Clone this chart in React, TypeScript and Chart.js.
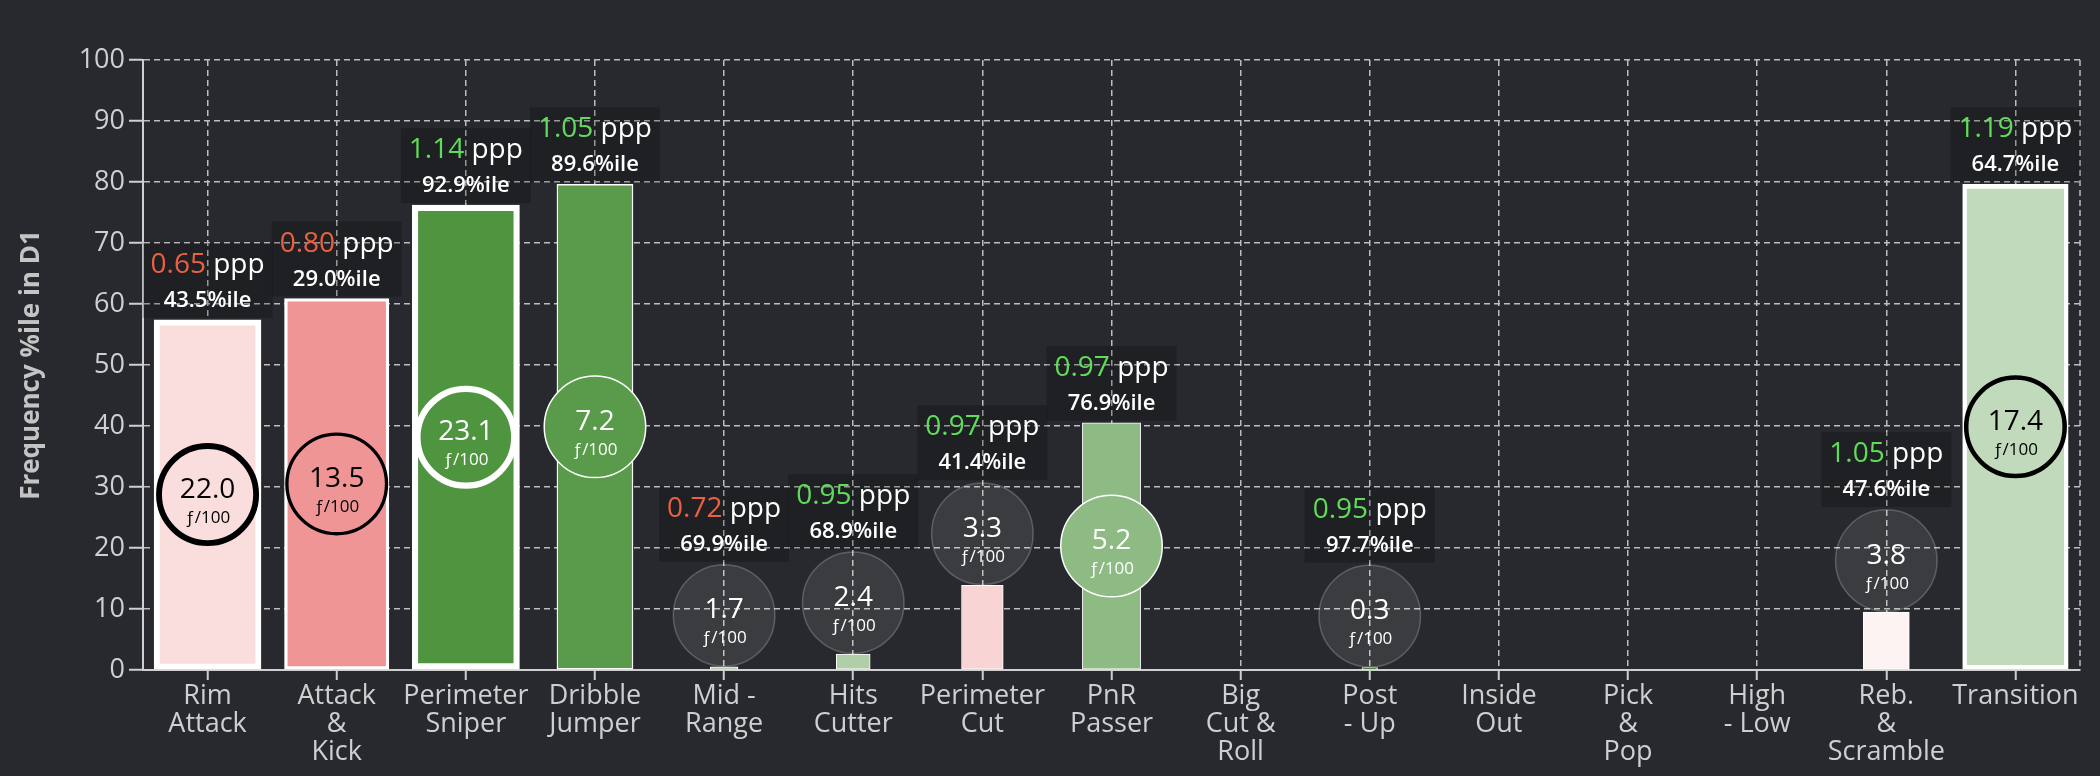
import React, { useEffect, useRef } from "react";
import { Chart, registerables, Plugin } from "chart.js";

Chart.register(...registerables);

// play types on the x axis (multi-line labels)
const categories: string[][] = [
  ["Rim", "Attack"],
  ["Attack", "&", "Kick"],
  ["Perimeter", "Sniper"],
  ["Dribble", "Jumper"],
  ["Mid -", "Range"],
  ["Hits", "Cutter"],
  ["Perimeter", "Cut"],
  ["PnR", "Passer"],
  ["Big", "Cut &", "Roll"],
  ["Post", "- Up"],
  ["Inside", "Out"],
  ["Pick", "&", "Pop"],
  ["High", "- Low"],
  ["Reb.", "&", "Scramble"],
  ["Transition"],
];

// bar height: frequency percentile in D1
const freqPctile = [57.4, 60.9, 76.2, 79.6, 0.5, 2.6, 13.9, 40.5, null, 0.4, null, null, null, 9.5, 79.6];
// possessions per 100 (circle value)
const freqPer100 = [22.0, 13.5, 23.1, 7.2, 1.7, 2.4, 3.3, 5.2, null, 0.3, null, null, null, 3.8, 17.4];
// points per possession and its percentile
const ppp = [0.65, 0.8, 1.14, 1.05, 0.72, 0.95, 0.97, 0.97, null, 0.95, null, null, null, 1.05, 1.19];
const pppPctile = [43.5, 29.0, 92.9, 89.6, 69.9, 68.9, 41.4, 76.9, null, 97.7, null, null, null, 47.6, 64.7];

const Y_MAX = 100;
const Y_STEP = 10;

const BG = "#27292e";
const FONT = "'Open Sans', 'DejaVu Sans', sans-serif";
const AXIS = "#cfcfcf";
const GRID = "#bdbdbd";
const RED = "#ea6040";
const GREEN = "#5fdc59";
const R = 51.5;

const mix = (a: number[], b: number[], t: number) =>
  `rgb(${a.map((v, k) => Math.round(v + (b[k] - v) * t)).join(",")})`;

const fillFor = (p: number) => {
  const t = Math.min(1, Math.abs(p - 50) / 42);
  return mix([255, 255, 255], p >= 50 ? [79, 149, 63] : [225, 43, 43], t);
};
const isDark = (p: number) => p > 71;
const borderFor = (f: number) => Math.max(1, 0.3 * f - 0.7);
const widthFor = (f: number) => Math.min(101, 12 + 8.7 * f) + borderFor(f);

const rightEdge: Plugin<"bar"> = {
  id: "rightEdge",
  beforeDatasetsDraw(chart) {
    const { ctx, chartArea } = chart;
    ctx.save();
    ctx.strokeStyle = GRID;
    ctx.lineWidth = 1.5;
    ctx.setLineDash([6, 4]);
    ctx.beginPath();
    ctx.moveTo(chartArea.right, chartArea.top);
    ctx.lineTo(chartArea.right, chartArea.bottom);
    ctx.stroke();
    ctx.restore();
  },
};

const bubbles: Plugin<"bar"> = {
  id: "bubbles",
  afterDatasetsDraw(chart) {
    const ctx = chart.ctx;
    categories.forEach((_, i) => {
      const f = freqPer100[i];
      const p = pppPctile[i];
      const v = ppp[i];
      if (f == null || p == null || v == null) return;
      const bar: any = chart.getDatasetMeta(i).data[i];
      if (!bar) return;
      const { x, y, base } = bar.getProps(["x", "y", "base"], true);
      const inside = base - y > 2 * R;
      const cy = inside ? (y + base) / 2 : y - R;
      const dark = isDark(p);

      ctx.save();
      // circle
      const ring = inside ? Math.max(1.5, borderFor(f)) : 1.5;
      ctx.beginPath();
      ctx.arc(x, cy, R - ring / 2, 0, Math.PI * 2);
      ctx.fillStyle = inside ? fillFor(p) : "rgba(255,255,255,0.09)";
      ctx.fill();
      ctx.lineWidth = ring;
      ctx.strokeStyle = inside ? (dark ? "#ffffff" : "#000000") : "rgba(255,255,255,0.22)";
      ctx.stroke();

      const txt = inside ? (dark ? "#ffffff" : "#000000") : "#ffffff";
      ctx.fillStyle = txt;
      ctx.textAlign = "center";
      ctx.textBaseline = "alphabetic";
      ctx.font = `28px ${FONT}`;
      ctx.fillText(f.toFixed(1), x, cy + 3);
      ctx.font = `17px ${FONT}`;
      ctx.fillText("ƒ/100", x, cy + 28);

      // label box
      const bottom = Math.min(y, cy - R) - 2;
      const num = v.toFixed(2);
      const pct = p.toFixed(1) + "%ile";
      ctx.font = `28px ${FONT}`;
      const wNum = ctx.measureText(num).width;
      const wRest = ctx.measureText(" ppp").width;
      ctx.font = `600 22px ${FONT}`;
      const wPct = ctx.measureText(pct).width;
      const bw = Math.max(wNum + wRest, wPct) + 16;
      const bh = 75;
      const top = bottom - bh;
      ctx.fillStyle = "rgba(0,0,0,0.2)";
      ctx.fillRect(x - bw / 2, top, bw, bh);

      ctx.textAlign = "left";
      ctx.font = `28px ${FONT}`;
      const sx = x - (wNum + wRest) / 2;
      ctx.fillStyle = v >= 0.9 ? GREEN : RED;
      ctx.fillText(num, sx, top + 30);
      ctx.fillStyle = "#ffffff";
      ctx.fillText(" ppp", sx + wNum, top + 30);
      ctx.textAlign = "center";
      ctx.font = `600 22px ${FONT}`;
      ctx.fillText(pct, x, top + 64);
      ctx.restore();
    });
  },
};

export default function App() {
  const canvasRef = useRef<HTMLCanvasElement>(null);

  useEffect(() => {
    document.body.style.margin = "0";
    document.body.style.background = BG;
    if (!canvasRef.current) return;

    const datasets = categories.map((_, i) => {
      const f = freqPer100[i] ?? 0;
      const p = pppPctile[i] ?? 50;
      return {
        label: categories[i].join(" "),
        data: freqPctile.map((v, j) => (j === i ? v : null)),
        backgroundColor: fillFor(p),
        borderColor: "#ffffff",
        borderWidth: borderFor(f),
        borderSkipped: false as const,
        barThickness: widthFor(f),
        grouped: false,
      };
    });

    const chart = new Chart(canvasRef.current, {
      type: "bar",
      data: { labels: categories, datasets },
      options: {
        animation: false,
        responsive: false,
        layout: { padding: { left: 0, right: 20, top: 60, bottom: 0 } },
        plugins: { legend: { display: false }, tooltip: { enabled: false } },
        scales: {
          x: {
            afterFit: (s) => {
              s.height = 106;
            },
            grid: {
              offset: false,
              color: GRID,
              lineWidth: 1.5,
              tickLength: 10,
              tickColor: AXIS,
              tickWidth: 2,
            },
            border: { color: AXIS, width: 2, dash: [6, 4] },
            ticks: {
              color: AXIS,
              font: { family: FONT, size: 27, lineHeight: 1.02 },
              maxRotation: 0,
              autoSkip: false,
              padding: 3,
            },
          },
          y: {
            min: 0,
            max: Y_MAX,
            afterFit: (s) => {
              s.width = 143;
            },
            grid: {
              color: GRID,
              lineWidth: 1.5,
              tickLength: 14,
              tickColor: AXIS,
              tickWidth: 2,
            },
            border: { color: AXIS, width: 2, dash: [6, 4] },
            ticks: {
              stepSize: Y_STEP,
              color: AXIS,
              font: { family: FONT, size: 27 },
              padding: 4,
            },
            title: {
              display: true,
              text: "Frequency %ile in D1",
              color: "#c4c4c4",
              font: { family: FONT, size: 26, weight: "bold" },
              padding: { top: 16, bottom: 0 },
            },
          },
        },
      },
      plugins: [rightEdge, bubbles],
    });

    return () => chart.destroy();
  }, []);

  return (
    <div style={{ width: 2100, height: 776, background: BG }}>
      <canvas ref={canvasRef} width={2100} height={776} style={{ display: "block" }} />
    </div>
  );
}
